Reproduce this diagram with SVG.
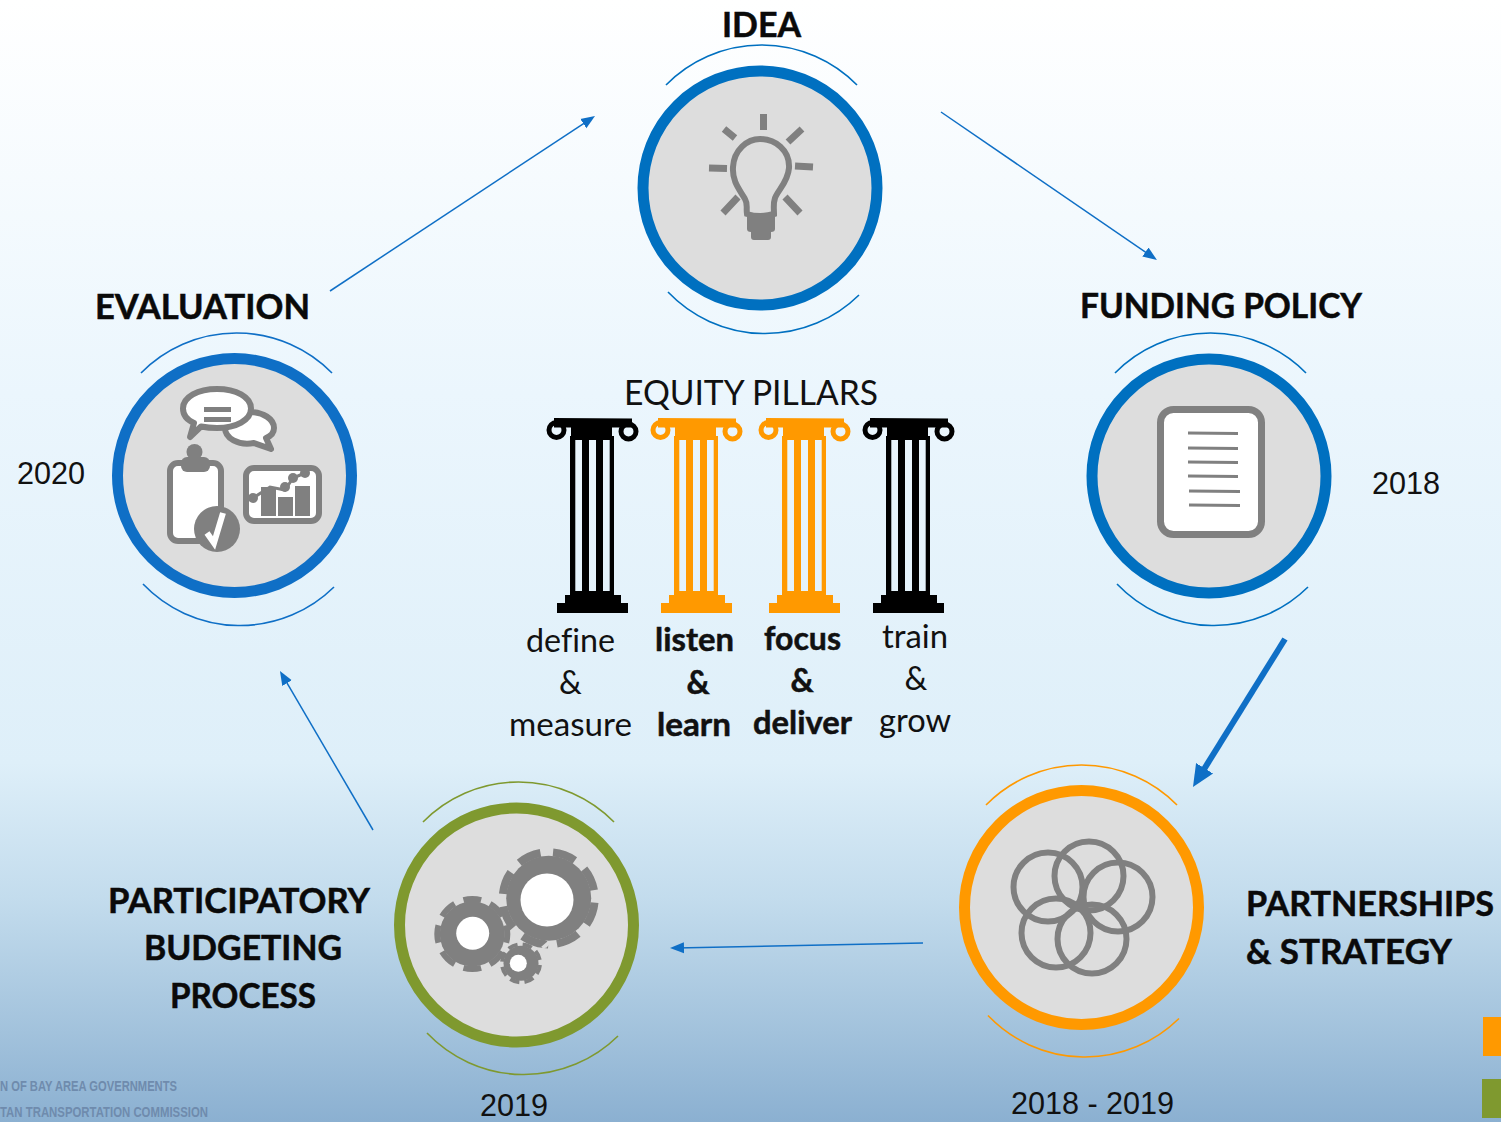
<svg xmlns="http://www.w3.org/2000/svg" xmlns:xlink="http://www.w3.org/1999/xlink" width="1501" height="1122" viewBox="0 0 1501 1122">
<style>
text{font-variant-ligatures:none}
.hd{font-family:Lato,"Liberation Sans",sans-serif;font-weight:700;font-size:34px;fill:#0a0a0a;stroke:#0a0a0a;stroke-width:.5px}
.lb{font-family:Lato,"Liberation Sans",sans-serif;font-size:32px;fill:#111}
.bl{font-family:Lato,"Liberation Sans",sans-serif;font-weight:700;font-size:32px;fill:#111;stroke:#111;stroke-width:.5px}
.yr{font-family:"Liberation Sans",Arial,sans-serif;font-size:30.6px;fill:#111}
.ft{font-family:"Liberation Sans",Arial,sans-serif;font-weight:700;font-size:15px;fill:#6f8bad}
.face{fill:#dddddd;stroke-width:11}
.arc{fill:none;stroke-width:1.6}
.blue{stroke:#0070c0}.blue2{stroke:#0f6fc6}.org{stroke:#ff9900}.grn{stroke:#7f992f}
.ic{fill:#808080}
.is{fill:none;stroke:#808080}
.iw{fill:#fff;stroke:#808080;stroke-linejoin:round}
.conn{fill:none;stroke:#0f6fc6;stroke-width:1.5}
</style>
<defs>
<linearGradient id="bg" x1="0" y1="0" x2="0" y2="1">
<stop offset="0" stop-color="#ffffff"/>
<stop offset="0.35" stop-color="#ebf6fd"/>
<stop offset="0.68" stop-color="#deeff9"/>
<stop offset="0.8" stop-color="#c3dced"/>
<stop offset="0.92" stop-color="#a2c2dc"/>
<stop offset="1" stop-color="#8bb0d1"/>
</linearGradient>
<marker id="ah" markerUnits="userSpaceOnUse" markerWidth="16" markerHeight="12" refX="8" refY="6" orient="auto"><path d="M0 0.5L14 6L0 11.500Z" fill="#0f6fc6"/></marker>
<marker id="ahb" markerUnits="userSpaceOnUse" markerWidth="24" markerHeight="22" refX="10" refY="11" orient="auto"><path d="M0 1L22 11L0 21Z" fill="#0f6fc6"/></marker>
<path id="tick-top" class="arc" d="M-95 -103A134 134 0 0 1 96 -103"/>
<path id="tick-bottom" class="arc" d="M-93 108A134 134 0 0 0 98 111"/>
<g id="pillar">
<path fill="currentColor" fill-rule="evenodd" d="M554 418L632 418.500V427.500H612V436H614V595H621V603H628V613H557V603H565V595H570V436H571V427.500H554ZM575.300 440V591H582V440ZM589 440V591H596V440ZM603 440V591H609.700V440Z"/>
<circle cx="556.500" cy="430" r="7.500" fill="none" stroke="currentColor" stroke-width="5"/>
<circle cx="628.500" cy="431.500" r="7.500" fill="none" stroke="currentColor" stroke-width="5"/>
</g>
</defs>
<rect id="background" width="1501" height="1122" fill="url(#bg)"/>

<g id="connectors">
<path class="conn" d="M330 291L590 119.300" marker-end="url(#ah)"/>
<path class="conn" d="M941 112L1152 256.600" marker-end="url(#ah)"/>
<path class="conn" d="M1285 639L1199.300 776.800" style="stroke-width:6" marker-end="url(#ahb)"/>
<path class="conn" d="M923 943L676 947.900" marker-end="url(#ah)"/>
<path class="conn" d="M373 830L283 676.200" marker-end="url(#ah)"/>
</g>

<g id="node-idea">
<use xlink:href="#tick-top" href="#tick-top" transform="translate(761 188)" class="blue"/>
<use xlink:href="#tick-bottom" href="#tick-bottom" transform="translate(761 184)" class="blue"/>
<circle class="face blue" cx="760" cy="188" r="117"/>
<path class="is" stroke-width="6" d="M747 214C746 208 748 204 745 199C740 190 732 182 733 167C734 150 747 139 760 139C775 139 790 150 789 168C788 182 778 190 775 198C773 204 774 208 774 214Q760 218 747 214Z"/>
<path class="ic" d="M747 217H775V229Q775 232 771 232V237Q771 240 768 240H754Q751 240 751 237V232Q747 232 747 229Z"/>
<path class="is" stroke-width="7" d="M763.500 114V130M788 142L802 129M724 129L735 138M709 168L727 168.500M795 166L813 167M738 197L723 213M785 197L800 213"/>
<text class="hd" x="722" y="37" textLength="79" lengthAdjust="spacingAndGlyphs">IDEA</text>
</g>

<g id="node-funding-policy">
<use xlink:href="#tick-top" href="#tick-top" transform="translate(1210 476)" class="blue"/>
<use xlink:href="#tick-bottom" href="#tick-bottom" transform="translate(1210 476)" class="blue"/>
<circle class="face blue" cx="1209" cy="476" r="117"/>
<rect class="iw" stroke-width="7" x="1160.500" y="409.500" width="101" height="125" rx="13"/>
<path class="is" stroke-width="3" d="M1188 433L1238 433.500M1188 448L1238 448.500M1188 462L1238 462.500M1188 476L1238 476.500M1189 491L1240 491.500M1189 505L1240 505.500"/>
<text class="hd" x="1080" y="318" textLength="282" lengthAdjust="spacingAndGlyphs">FUNDING POLICY</text>
<text class="yr" x="1372" y="494">2018</text>
</g>

<g id="node-partnerships">
<use xlink:href="#tick-top" href="#tick-top" transform="translate(1081 908)" class="org"/>
<use xlink:href="#tick-bottom" href="#tick-bottom" transform="translate(1081 907.500)" class="org"/>
<circle class="face org" cx="1081.500" cy="907.500" r="117"/>
<g class="is" stroke-width="6">
<circle cx="1048" cy="887" r="34.500"/>
<circle cx="1089" cy="876" r="34.500"/>
<circle cx="1118" cy="897" r="34.500"/>
<circle cx="1056" cy="933" r="34.500"/>
<circle cx="1092" cy="939" r="34.500"/>
</g>
<text class="hd" x="1246" y="916" textLength="248" lengthAdjust="spacingAndGlyphs">PARTNERSHIPS</text>
<text class="hd" x="1246" y="964" textLength="206" lengthAdjust="spacingAndGlyphs">&amp; STRATEGY</text>
<text class="yr" x="1011" y="1114" textLength="163" lengthAdjust="spacing">2018 - 2019</text>
</g>

<g id="node-participatory-budgeting">
<use xlink:href="#tick-top" href="#tick-top" transform="translate(518 925)" class="grn"/>
<use xlink:href="#tick-bottom" href="#tick-bottom" transform="translate(520 925)" class="grn"/>
<circle class="face grn" cx="516.500" cy="925" r="117"/>
<g class="is">
<circle cx="548.700" cy="898.300" r="46" stroke-width="8" pathLength="8" stroke-dasharray="0.650 0.350" transform="rotate(5.400 548.700 898.300)"/>
<circle cx="472.300" cy="934" r="35" stroke-width="6" pathLength="8" stroke-dasharray="0.650 0.350" transform="rotate(-14.600 472.300 934)"/>
<circle cx="521" cy="963.300" r="19" stroke-width="4" pathLength="8" stroke-dasharray="0.650 0.350" transform="rotate(5 521 963.300)"/>
</g>
<circle class="ic" cx="548.700" cy="898.300" r="42.500"/>
<circle class="ic" cx="472.300" cy="934" r="32.500"/>
<circle class="ic" cx="521" cy="963.300" r="17.500"/>
<circle cx="547" cy="900" r="26.500" fill="#fff"/>
<circle cx="472.700" cy="933.300" r="16.500" fill="#fff"/>
<circle cx="518.300" cy="963.300" r="8.500" fill="#fff"/>
<text class="hd" x="108" y="913" textLength="262" lengthAdjust="spacingAndGlyphs">PARTICIPATORY</text>
<text class="hd" x="144" y="960" textLength="198" lengthAdjust="spacingAndGlyphs">BUDGETING</text>
<text class="hd" x="170" y="1008" textLength="146" lengthAdjust="spacingAndGlyphs">PROCESS</text>
<text class="yr" x="480" y="1116">2019</text>
</g>

<g id="node-evaluation">
<use xlink:href="#tick-top" href="#tick-top" transform="translate(236 476)" class="blue2"/>
<use xlink:href="#tick-bottom" href="#tick-bottom" transform="translate(236 476)" class="blue2"/>
<circle class="face blue2" cx="234.500" cy="475.500" r="117"/>
<path class="iw" stroke-width="6" d="M225 428C225 418 236 412 250 412C263 412 274 419 274 428C274 433 271 436 266 438L271 449L254 443C238 446 225 438 225 428Z"/>
<path class="iw" stroke-width="6" d="M183 408.500C183 397 198 389 217 389C236 389 251 397 251 408.500C251 420 236 428 217 428C211 428 206 427.500 201 426.500L190 437L194 423C187 420 183 415 183 408.500Z"/>
<path class="ic" d="M204 407H231V412H204ZM204 417H231V422H204Z"/>
<rect class="iw" stroke-width="6" x="170" y="463" width="51" height="78" rx="8"/>
<circle class="ic" cx="194.500" cy="452" r="8"/>
<rect class="ic" x="181" y="457" width="29" height="15" rx="6"/>
<circle class="ic" cx="217" cy="529" r="23"/>
<path fill="none" stroke="#fff" stroke-width="6" d="M207 533L214 543L223 513"/>
<rect class="iw" stroke-width="6" x="246" y="468" width="73" height="53" rx="8"/>
<path class="ic" d="M261 487L276 487V516H261ZM278 497H293V516H278ZM295 486H310V516H295Z"/>
<path class="is" stroke-width="3" d="M253 498L270 487L285 490L293 478L305 473"/>
<circle class="ic" cx="253" cy="498" r="5"/><circle class="ic" cx="285" cy="487" r="5"/><circle class="ic" cx="293" cy="478" r="5"/><circle class="ic" cx="305" cy="473" r="5"/>
<text class="hd" x="95" y="319" textLength="215" lengthAdjust="spacingAndGlyphs">EVALUATION</text>
<text class="yr" x="17" y="484">2020</text>
</g>

<g id="equity-pillars">
<text class="lb" x="624" y="405" textLength="254" lengthAdjust="spacingAndGlyphs" style="font-size:35px">EQUITY PILLARS</text>
<use xlink:href="#pillar" href="#pillar" style="color:#000"/>
<use xlink:href="#pillar" href="#pillar" x="104" style="color:#ff9900"/>
<use xlink:href="#pillar" href="#pillar" x="212" style="color:#ff9900"/>
<use xlink:href="#pillar" href="#pillar" x="316" style="color:#000"/>
<g text-anchor="middle">
<text class="lb" x="570.500" y="652" textLength="89" lengthAdjust="spacingAndGlyphs">define</text>
<text class="lb" x="570.500" y="694">&amp;</text>
<text class="lb" x="570.500" y="736" textLength="123" lengthAdjust="spacingAndGlyphs">measure</text>
<text class="bl" x="694.500" y="651" textLength="79" lengthAdjust="spacingAndGlyphs">listen</text>
<text class="bl" x="698" y="694">&amp;</text>
<text class="bl" x="694" y="736" textLength="74" lengthAdjust="spacingAndGlyphs">learn</text>
<text class="bl" x="802.500" y="650" textLength="77" lengthAdjust="spacingAndGlyphs">focus</text>
<text class="bl" x="802" y="692">&amp;</text>
<text class="bl" x="802.500" y="734" textLength="99" lengthAdjust="spacingAndGlyphs">deliver</text>
<text class="lb" x="915" y="648" textLength="66" lengthAdjust="spacingAndGlyphs">train</text>
<text class="lb" x="916" y="690">&amp;</text>
<text class="lb" x="915" y="732" textLength="72" lengthAdjust="spacingAndGlyphs">grow</text>
</g>
</g>

<g id="footer">
<text class="ft" x="0" y="1091" textLength="177" lengthAdjust="spacingAndGlyphs">N OF BAY AREA GOVERNMENTS</text>
<text class="ft" x="0" y="1117" textLength="208" lengthAdjust="spacingAndGlyphs">TAN TRANSPORTATION COMMISSION</text>
<rect x="1483" y="1017" width="18" height="39" fill="#ff9900"/>
<rect x="1482" y="1079" width="19" height="39" fill="#7f992f"/>
</g>
</svg>
